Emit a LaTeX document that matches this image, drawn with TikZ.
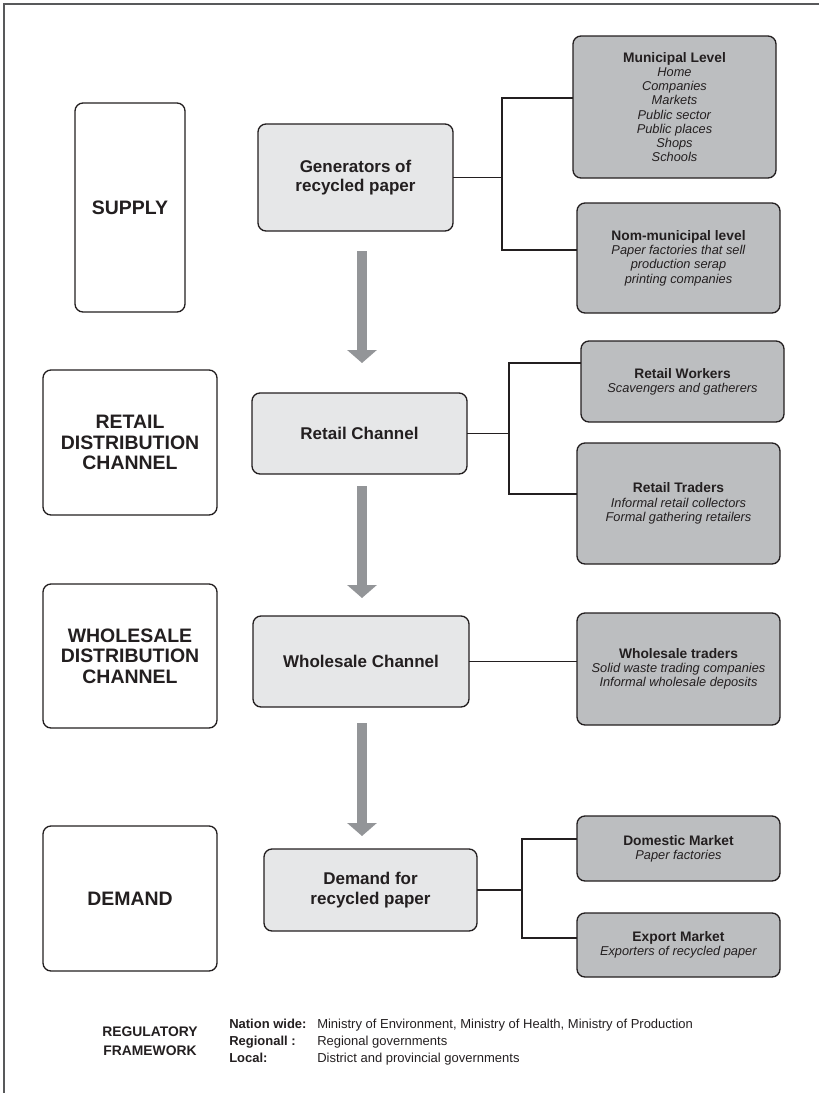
\documentclass[tikz,border=0pt]{standalone}
\usepackage{fontspec}
\setmainfont{Liberation Sans}
\usetikzlibrary{arrows.meta}
\definecolor{ink}{HTML}{231F20}
\definecolor{midfill}{HTML}{E6E7E8}
\definecolor{rfill}{HTML}{BCBEC0}
\definecolor{arr}{HTML}{939598}
\definecolor{framec}{HTML}{58595B}
\newcommand\bx[7]{\node[#6, minimum width={(#4-#2)*0.75pt}, minimum height={(#5-#3)*0.75pt}] (#1) at ({(#2+#4)/2},{(#3+#5)/2}) {#7};}
\newcommand\hd[1]{{\fontsize{10.35}{10.7}\selectfont\bfseries #1}}
\newcommand\dtl[1]{\textit{#1}}
\begin{document}
\begin{tikzpicture}[x=0.75pt,y=-0.75pt,
  base/.style={draw=ink, line width=1pt, rounded corners=6pt, inner sep=0pt, outer sep=0pt, align=center, text=ink},
  stage/.style={base, fill=white, font=\fontsize{14.6}{15.4}\selectfont\bfseries},
  chan/.style={base, fill=midfill, font=\fontsize{12.75}{14.5}\selectfont\bfseries},
  detail/.style={base, fill=rfill, font=\fontsize{9.6}{10.7}\selectfont},
  link/.style={draw=ink, line width=0.8pt},
  flow/.style={draw=arr, line width=7pt, -{Triangle[width=21.75pt,length=9.75pt]}},
  frame/.style={draw=framec, line width=1.1pt},
  regt/.style={text=ink, inner sep=0pt, anchor=base west, font=\fontsize{9.75}{12}\selectfont},
  regh/.style={regt, font=\fontsize{9.75}{12}\selectfont\bfseries}
]
\useasboundingbox (0,0) rectangle (819,1093);
\draw[frame] (4,1093) -- (4,4) -- (819,4);

% stage boxes
\bx{supply}{75}{103}{185}{312}{stage}{SUPPLY}
\bx{retail}{43}{370}{217}{515}{stage}{RETAIL\\DISTRIBUTION\\CHANNEL}
\bx{whole}{43}{584}{217}{728}{stage}{WHOLESALE\\DISTRIBUTION\\CHANNEL}
\bx{demand}{43}{826}{217}{971}{stage}{DEMAND}

% channel boxes
\bx{gen}{258}{124}{453}{231}{chan}{Generators of\\recycled paper}
\bx{rch}{252}{393}{467}{474}{chan}{Retail Channel}
\bx{wch}{253}{616}{469}{707}{chan}{Wholesale Channel}
\bx{dem}{264}{849}{477}{931}{chan}{Demand for\\recycled paper}

% detail boxes
\bx{muni}{573}{36}{776}{178}{detail}{\hd{Municipal Level}\\\dtl{Home}\\\dtl{Companies}\\\dtl{Markets}\\\dtl{Public sector}\\\dtl{Public places}\\\dtl{Shops}\\\dtl{Schools}}
\bx{nom}{577}{203}{780}{313}{detail}{\hd{Nom-municipal level}\\\dtl{Paper factories that sell}\\\dtl{production serap}\\\dtl{printing companies}}
\bx{rwork}{581}{341}{784}{422}{detail}{\hd{Retail Workers}\\\dtl{Scavengers and gatherers}}
\bx{rtrad}{577}{443}{780}{564}{detail}{\hd{Retail Traders}\\\dtl{Informal retail collectors}\\\dtl{Formal gathering retailers}}
\bx{wtrad}{577}{613}{780}{725}{detail}{\hd{Wholesale traders}\\\dtl{Solid waste trading companies}\\\dtl{Informal wholesale deposits}}
\bx{dom}{577}{816}{780}{881}{detail}{\hd{Domestic Market}\\\dtl{Paper factories}}
\bx{exp}{577}{913}{780}{977}{detail}{\hd{Export Market}\\\dtl{Exporters of recycled paper}}

% connectors
\coordinate (g1) at (502,98); \coordinate (g2) at (502,250);
\draw[link] (gen.east) -| (g1) -- (g1 -| muni.west);
\draw[link] (gen.east) -| (g2) -- (g2 -| nom.west);
\coordinate (r1) at (509,363); \coordinate (r2) at (509,494);
\draw[link] (rch.east) -| (r1) -- (r1 -| rwork.west);
\draw[link] (rch.east) -| (r2) -- (r2 -| rtrad.west);
\draw[link] (wch.east) -- (wch.east -| wtrad.west);
\coordinate (d1) at (522,839); \coordinate (d2) at (522,938);
\draw[link] (dem.east) -| (d1) -- (d1 -| dom.west);
\draw[link] (dem.east) -| (d2) -- (d2 -| exp.west);

% flow arrows
\coordinate (a1s) at (362,251); \coordinate (a1e) at (362,363);
\coordinate (a2s) at (362,486); \coordinate (a2e) at (362,598);
\coordinate (a3s) at (362,723); \coordinate (a3e) at (362,836);
\draw[flow] (a1s) -- (a1e);
\draw[flow] (a2s) -- (a2e);
\draw[flow] (a3s) -- (a3e);

% regulatory framework
\node[text=ink, align=center, font=\fontsize{10.4}{14.2}\selectfont\bfseries] (reg) at (150,1041) {REGULATORY\\FRAMEWORK};
\node[regh] (nwh) at (229,1028) {Nation wide:};
\node[regt] (nwt) at (317,1028) {Ministry of Environment, Ministry of Health, Ministry of Production};
\node[regh] (rgh) at (229,1045) {Regionall :};
\node[regt] (rgt) at (317,1045) {Regional governments};
\node[regh] (lch) at (229,1062) {Local:};
\node[regt] (lct) at (317,1062) {District and provincial governments};
\end{tikzpicture}
\end{document}
